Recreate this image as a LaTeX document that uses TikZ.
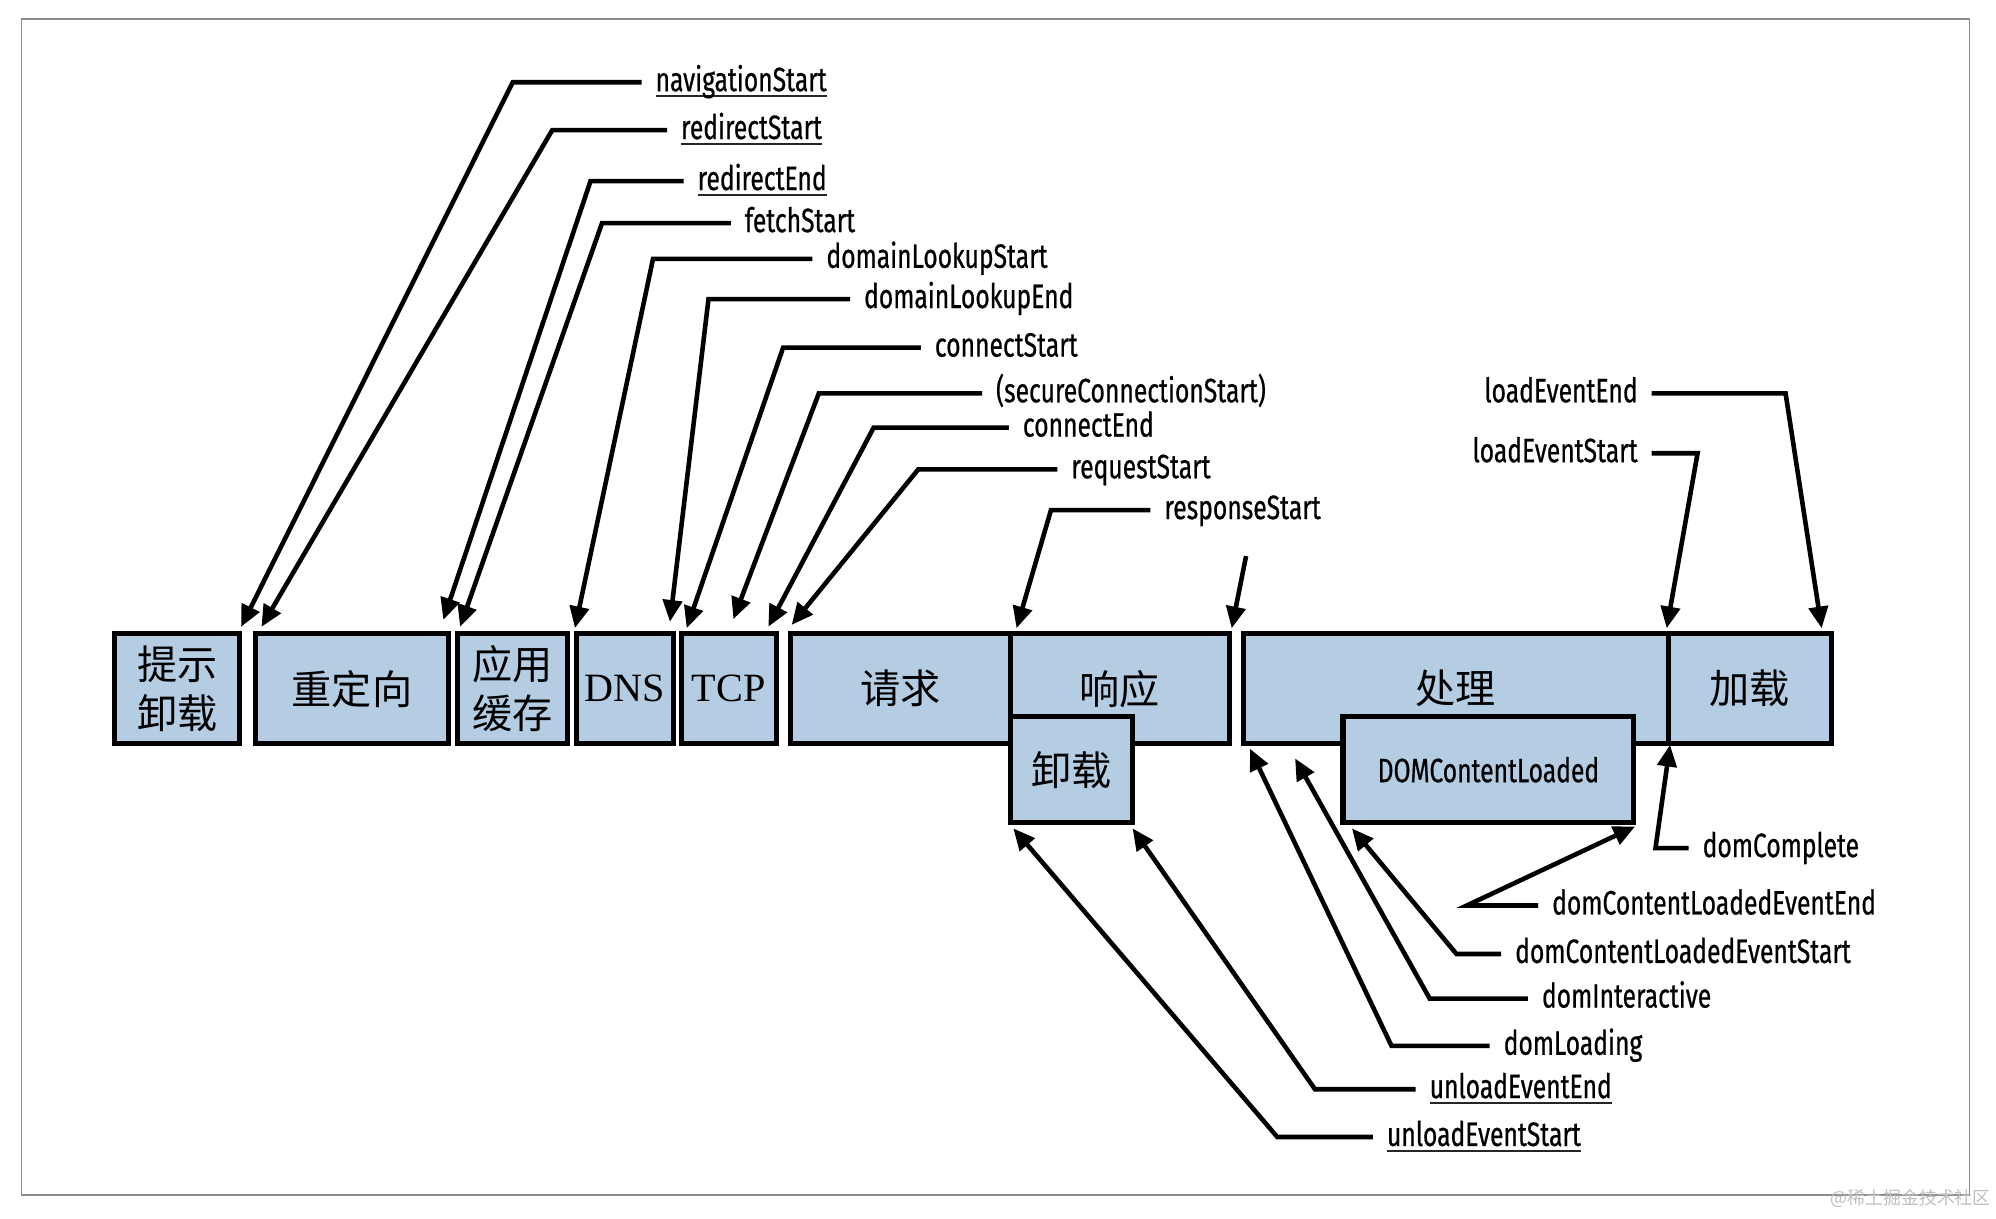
\documentclass[tikz,border=0pt]{standalone}
\usepackage{fontspec}
\setmainfont{Liberation Serif}
\newfontfamily\cjk{Noto Sans CJK SC}
\newfontfamily\lblfont[FakeStretch=0.73,FakeBold=0.6]{Fira Sans}
\usetikzlibrary{arrows.meta,positioning}
\definecolor{segblue}{RGB}{180,205,227}
\newcommand{\ulabel}[1]{\setbox0\hbox{#1}\rlap{\color{black!85}\rule[-4.5pt]{\wd0}{1.3pt}}\box0}
\tikzset{
  seg/.style={draw, line width=4pt, fill=segblue, inner sep=0pt, outer sep=0pt,
    anchor=north west, minimum height=86pt, align=center,
    font=\cjk\fontsize{31.5}{38}\selectfont},
  lbl/.style={inner sep=0pt, outer xsep=11pt, outer ysep=0pt, text height=14pt,
    text depth=0pt, font=\lblfont\fontsize{26.5}{30}\selectfont},
  lead/.style={line width=3.6pt, line join=miter, -{Triangle[length=17pt,width=15pt]}},
  frame/.style={draw=black!45, line width=1pt}
}
\begin{document}
\begin{tikzpicture}[x=1pt,y=-1pt]
  \useasboundingbox (0,0) rectangle (1565,955);
  \draw[frame] (17,15) rectangle (1544,937);
  \node[anchor=east, text=black!25, inner sep=0pt, font=\cjk\fontsize{14}{14}\selectfont] (mark) at (1561,940) {@稀土掘金技术社区};

  \node[seg, minimum width=98pt]  (tishi)    at (90,497)  {提示\\卸载};
  \node[seg, minimum width=152pt] (redirect) at (200,497) {重定向};
  \node[seg, minimum width=86pt]  (appcache) at (359,497) {应用\\缓存};
  \node[seg, minimum width=76pt, font=\fontsize{31.5}{38}\selectfont]   (dns) at (452,497) {DNS};
  \node[seg, minimum width=74.5pt, font=\fontsize{31.5}{38}\selectfont] (tcp) at (534,497) {TCP};
  \node[seg, minimum width=172pt] (request)  at (620,497) {请求};
  \node[seg, minimum width=172pt, right=0pt of request] (response) {响应};
  \node[seg, minimum width=333pt] (process)  at (975,497) {处理};
  \node[seg, minimum width=128pt, right=0pt of process] (load) {加载};
  \node[seg, minimum width=96pt, minimum height=83pt]  (unload) at (792,562) {卸载};
  \node[seg, minimum width=228pt, minimum height=83pt,
        font=\lblfont\fontsize{26.5}{30}\selectfont] (domcl) at (1053,562) {DOMContentLoaded};

  \node[lbl, anchor=west] (navStart)    at (503,64.5)  {\ulabel{navigationStart}};
  \node[lbl, anchor=west] (redStart)    at (523,102)   {\ulabel{redirectStart}};
  \node[lbl, anchor=west] (redEnd)      at (536,142)   {\ulabel{redirectEnd}};
  \node[lbl, anchor=west] (fetchStart)  at (573,175)   {fetchStart};
  \node[lbl, anchor=west] (dnsStart)    at (637,203)   {domainLookupStart};
  \node[lbl, anchor=west] (dnsEnd)      at (666.5,234.5) {domainLookupEnd};
  \node[lbl, anchor=west] (conStart)    at (722,272.6) {connectStart};
  \node[lbl, anchor=west] (secStart)    at (770,308.4) {(secureConnectionStart)};
  \node[lbl, anchor=west] (conEnd)      at (791,335.3) {connectEnd};
  \node[lbl, anchor=west] (reqStart)    at (829,368)   {requestStart};
  \node[lbl, anchor=west] (resStart)    at (902,400)   {responseStart};
  \node[lbl, anchor=east] (loadEnd)     at (1295,308.4) {loadEventEnd};
  \node[lbl, anchor=east] (loadStart)   at (1295,355.4) {loadEventStart};

  \node[lbl, anchor=west] (domComplete) at (1324,665)  {domComplete};
  \node[lbl, anchor=west] (dclEnd)      at (1206,710)  {domContentLoadedEventEnd};
  \node[lbl, anchor=west] (dclStart)    at (1177,748)  {domContentLoadedEventStart};
  \node[lbl, anchor=west] (domInter)    at (1198,783)  {domInteractive};
  \node[lbl, anchor=west] (domLoading)  at (1168,820)  {domLoading};
  \node[lbl, anchor=west] (unlEnd)      at (1110,854)  {\ulabel{unloadEventEnd}};
  \node[lbl, anchor=west] (unlStart)    at (1076.5,891.5) {\ulabel{unloadEventStart}};

  \coordinate (navTip)   at (189,491.5);
  \coordinate (redSTip)  at (205,491.5);
  \coordinate (redETip)  at (347.6,486);
  \coordinate (fetchTip) at (360.7,491.5);
  \coordinate (dnsSTip)  at (450.8,492.5);
  \coordinate (dnsETip)  at (525.3,487.5);
  \coordinate (conSTip)  at (538.4,492.5);
  \coordinate (secTip)   at (575,485.5);
  \coordinate (conETip)  at (602.4,491.4);
  \coordinate (reqTip)   at (620.7,490);
  \coordinate (resSTip)  at (797,492.6);
  \coordinate (resEnd)   at (977,436);
  \coordinate (resETip)  at (965.7,492.6);
  \coordinate (loadETip) at (1428.3,492.6);
  \coordinate (loadSTip) at (1306.8,492.6);
  \coordinate (compTip)  at (1309.4,584);
  \coordinate (dclETip)  at (1282,648);
  \coordinate (dclSTip)  at (1060,649.5);
  \coordinate (interTip) at (1015.4,594.6);
  \coordinate (loadgTip) at (980,587);
  \coordinate (unlETip)  at (888,649.5);
  \coordinate (unlSTip)  at (794.5,649.5);

  \draw[lead] (navStart.west)   -- ++(-101,0) -- (navTip);
  \draw[lead] (redStart.west)   -- ++(-90,0)  -- (redSTip);
  \draw[lead] (redEnd.west)     -- ++(-73,0)  -- (redETip);
  \draw[lead] (fetchStart.west) -- ++(-101,0) -- (fetchTip);
  \draw[lead] (dnsStart.west)   -- ++(-125,0) -- (dnsSTip);
  \draw[lead] (dnsEnd.west)     -- ++(-111,0) -- (dnsETip);
  \draw[lead] (conStart.west)   -- ++(-108,0) -- (conSTip);
  \draw[lead] (secStart.west)   -- ++(-128,0) -- (secTip);
  \draw[lead] (conEnd.west)     -- ++(-106,0) -- (conETip);
  \draw[lead] (reqStart.west)   -- ++(-109,0) -- (reqTip);
  \draw[lead] (resStart.west)   -- ++(-78,0)  -- (resSTip);
  \draw[lead] (resEnd) -- (resETip);
  \draw[lead] (loadEnd.east)    -- ++(105,0)  -- (loadETip);
  \draw[lead] (loadStart.east)  -- ++(36,0)   -- (loadSTip);

  \draw[lead] (domComplete.west) -- ++(-26,0) -- (compTip);
  \draw[lead] (dclEnd.west)      -- ++(-56,0) -- (dclETip);
  \draw[lead] (dclStart.west)    -- ++(-35,0) -- (dclSTip);
  \draw[lead] (domInter.west)    -- ++(-77,0) -- (interTip);
  \draw[lead] (domLoading.west)  -- ++(-77,0) -- (loadgTip);
  \draw[lead] (unlEnd.west)      -- ++(-79,0) -- (unlETip);
  \draw[lead] (unlStart.west)    -- ++(-75,0) -- (unlSTip);
\end{tikzpicture}
\end{document}
